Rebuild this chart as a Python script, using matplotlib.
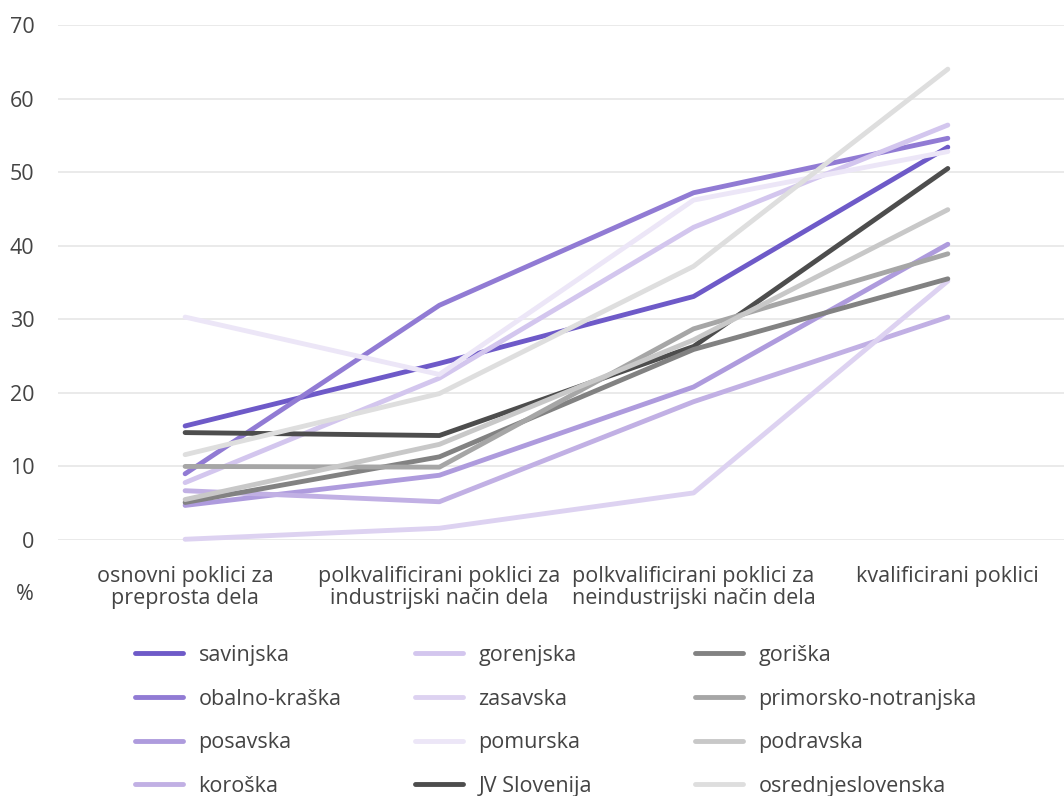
import matplotlib
matplotlib.use("Agg")
import matplotlib.pyplot as plt
from matplotlib.lines import Line2D

plt.rcParams['font.family'] = ['Open Sans', 'DejaVu Sans']

# categories on the x axis
categories = [
    "osnovni poklici za\npreprosta dela",
    "polkvalificirani poklici za\nindustrijski način dela",
    "polkvalificirani poklici za\nneindustrijski način dela",
    "kvalificirani poklici",
]

# series values (%)
savinjska = [15.5, 24.0, 33.1, 53.4]
obalno_kraska = [9.0, 31.9, 47.2, 54.6]
posavska = [4.7, 8.8, 20.8, 40.2]
koroska = [6.7, 5.2, 18.8, 30.3]
gorenjska = [7.8, 22.0, 42.5, 56.4]
zasavska = [0.1, 1.6, 6.4, 35.2]
pomurska = [30.3, 22.5, 46.2, 52.8]
jv_slovenija = [14.6, 14.2, 26.3, 50.5]
goriska = [5.1, 11.3, 25.9, 35.5]
primorsko_notranjska = [10.0, 9.9, 28.7, 38.9]
podravska = [5.5, 13.0, 27.2, 44.9]
osrednjeslovenska = [11.6, 19.9, 37.2, 64.0]

series_names = ["savinjska", "obalno-kraška", "posavska", "koroška",
                "gorenjska", "zasavska", "pomurska", "JV Slovenija",
                "goriška", "primorsko-notranjska", "podravska", "osrednjeslovenska"]
series_values = [savinjska, obalno_kraska, posavska, koroska,
                 gorenjska, zasavska, pomurska, jv_slovenija,
                 goriska, primorsko_notranjska, podravska, osrednjeslovenska]
series_colors = ["#6e5ac8", "#917bd4", "#ae9bdd", "#c1b0e4",
                 "#d3c6ee", "#ddd2f1", "#ece6f7", "#4d4d4d",
                 "#828282", "#a6a6a6", "#c8c8c8", "#dedede"]

text_color = "#444444"
fs = 15.5
W, H = 1064, 796

fig = plt.figure(figsize=(W / 100, H / 100), dpi=100)
ax = fig.add_axes([58 / W, 1 - 540 / H, 1 - 58 / W, (540 - 25) / H])

x = list(range(len(categories)))
for name, vals, col in zip(series_names, series_values, series_colors):
    ax.plot(x, vals, color=col, lw=3.5, solid_capstyle='round',
            solid_joinstyle='round', label=name, clip_on=False)

ax.set_xlim(-0.5, 3.457)
ax.set_ylim(0, 70)
ax.set_yticks(range(0, 71, 10))
ax.set_xticks(x)
ax.set_xticklabels(categories, fontsize=fs, color=text_color, linespacing=1.05)
ax.tick_params(axis='both', length=0, labelsize=fs, labelcolor=text_color)
ax.tick_params(axis='x', pad=19)
ax.tick_params(axis='y', pad=17)
ax.grid(axis='y', color="#e6e6e6", lw=1.2)
ax.set_axisbelow(True)
for s in ax.spines.values():
    s.set_visible(False)

fig.text(25 / W, 1 - 594 / H, "%", fontsize=fs, color=text_color,
         ha='center', va='center')

# legend: three columns with fixed positions
handles = [Line2D([0], [0], color=c, lw=3.5, solid_capstyle='round')
           for c in series_colors]
col_x = [135, 415, 695]
for i in range(3):
    leg = fig.legend(handles[i * 4:(i + 1) * 4], series_names[i * 4:(i + 1) * 4],
                     loc='upper left', bbox_to_anchor=(col_x[i] / W, 1 - 645 / H),
                     frameon=False, fontsize=fs, handlelength=2.25,
                     handletextpad=0.7, labelspacing=1.05, borderpad=0,
                     borderaxespad=0)
    for t in leg.get_texts():
        t.set_color(text_color)

fig.savefig("out.png", dpi=100)
